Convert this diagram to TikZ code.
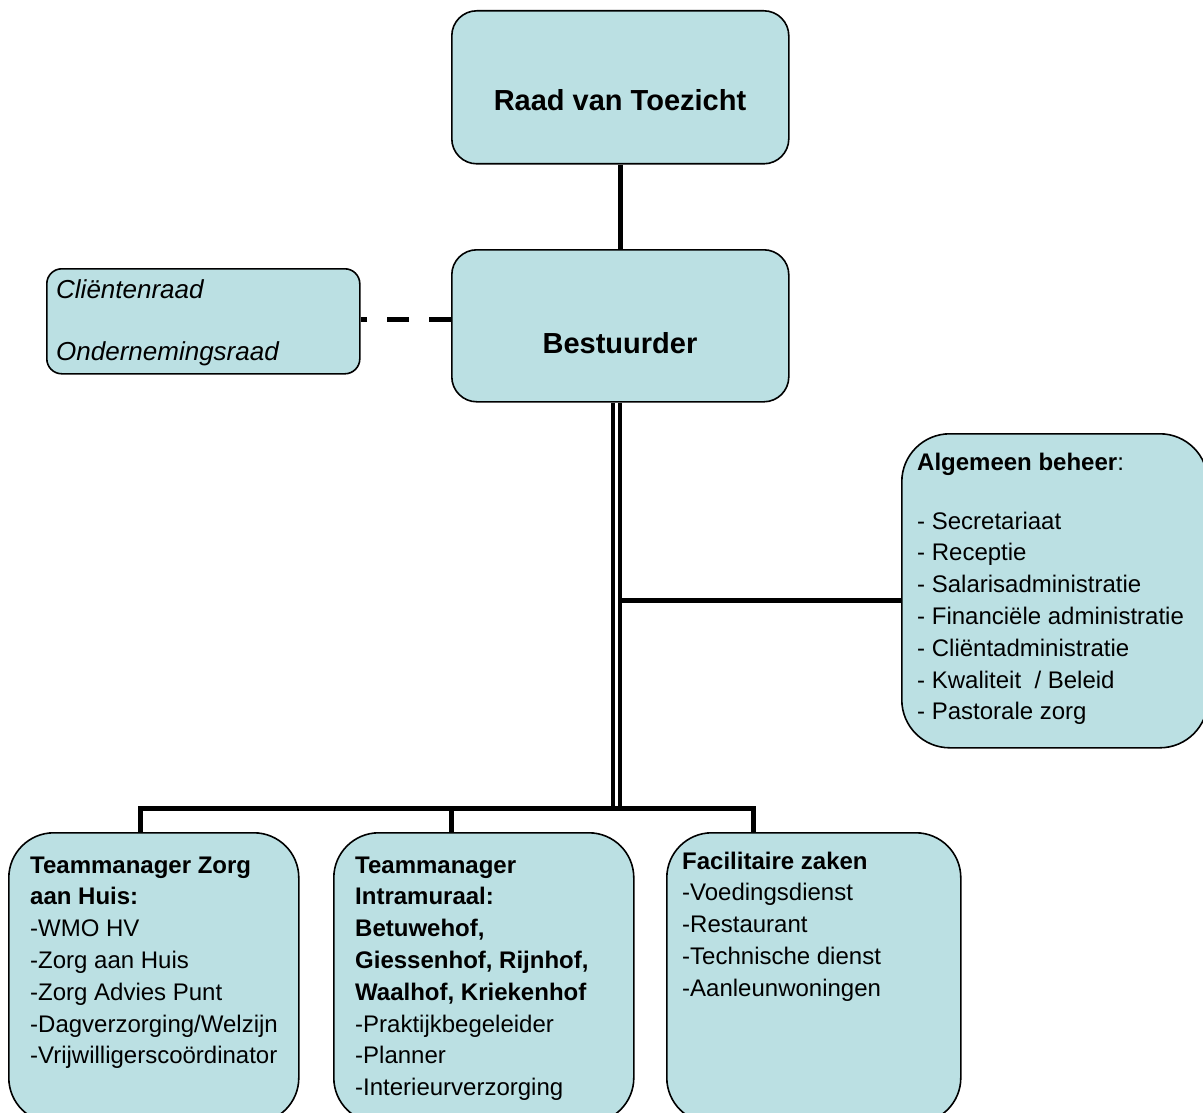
\documentclass[tikz,border=0pt]{standalone}
\usepackage{fontspec}
\setmainfont{Liberation Sans}
\definecolor{boxfill}{RGB}{187,224,227}
\begin{document}
\begin{tikzpicture}[x=1pt,y=-1pt,
  orgbox/.style={draw=black, line width=1.6pt, fill=boxfill, inner sep=0pt, anchor=north west},
  titletxt/.style={inner sep=0pt, anchor=base, font=\bfseries\fontsize{29pt}{34pt}\selectfont},
  bodytxt/.style={inner sep=0pt, anchor=north west, align=left, font=\fontsize{24pt}{31.8pt}\selectfont},
  conn/.style={line width=5pt, draw=black},
]
\clip (0,0) rectangle (1203,1113);
\fill[white] (0,0) rectangle (1203,1113);

% boxes
\node[orgbox, rounded corners=25pt, minimum width=337pt, minimum height=153pt] (raad) at (451,10) {};
\node[orgbox, rounded corners=25pt, minimum width=337pt, minimum height=152pt] (best) at (451,249) {};
\node[orgbox, rounded corners=15pt, minimum width=313pt, minimum height=105pt] (cli) at (46,268) {};
\node[orgbox, rounded corners=48pt, minimum width=306pt, minimum height=314pt] (alg) at (901,433) {};
\node[orgbox, rounded corners=45pt, minimum width=290pt, minimum height=290pt] (tzh) at (8,832) {};
\node[orgbox, rounded corners=45pt, minimum width=300pt, minimum height=290pt] (tin) at (333,832) {};
\node[orgbox, rounded corners=45pt, minimum width=294pt, minimum height=290pt] (fac) at (666,832) {};

% connectors
\coordinate (busmid) at (616,808);
\coordinate (busl) at (140,808);
\coordinate (busc) at (451,808);
\coordinate (busr) at (753,808);
\coordinate (algjoin) at (619,600);
\draw[conn] (raad.south) -- (best.north);
\draw[conn, dash pattern=on 22pt off 20pt] (best.west |- 0,319) -- (cli.east |- 0,319);
\draw[line width=4pt, double=white, double distance=3pt] (best.south -| busmid) -- ([yshift=2pt]busmid);
\draw[conn] (algjoin) -- (alg.west |- algjoin);
\draw[conn, line cap=rect] (busl) -- (busr);
\draw[conn] (busl) -- (tzh.north -| busl);
\draw[conn] (busc) -- (tin.north -| busc);
\draw[conn] (busr) -- (fac.north -| busr);

% texts
\node[titletxt] (raadt) at (620,111) {Raad van Toezicht};
\node[titletxt] (bestt) at (620,353) {Bestuurder};
\node[inner sep=0pt, anchor=north west, align=left, font=\itshape\fontsize{26pt}{31pt}\selectfont] (clit) at (56,276.3)
  {\strut Cliëntenraad\\[31pt]Ondernemingsraad};
\node[bodytxt] (algt) at (917,447.7)
  {\strut\textbf{Algemeen beheer}:\\[27.2pt]
   - Secretariaat\\
   - Receptie\\
   - Salarisadministratie\\
   - Financiële administratie\\
   - Cliëntadministratie\\
   - Kwaliteit\ \ / Beleid\\
   - Pastorale zorg};
\node[bodytxt] (tzht) at (30,850.7)
  {\strut\textbf{Teammanager Zorg}\\
   \textbf{aan Huis:}\\
   -WMO HV\\
   -Zorg aan Huis\\
   -Zorg Advies Punt\\
   -Dagverzorging/Welzijn\\
   -Vrijwilligerscoördinator};
\node[bodytxt] (tint) at (355,850.7)
  {\strut\textbf{Teammanager}\\
   \textbf{Intramuraal:}\\
   \textbf{Betuwehof,}\\
   \textbf{Giessenhof, Rijnhof,}\\
   \textbf{Waalhof, Kriekenhof}\\
   -Praktijkbegeleider\\
   -Planner\\
   -Interieurverzorging};
\node[bodytxt] (fact) at (682,846.7)
  {\strut\textbf{Facilitaire zaken}\\
   -Voedingsdienst\\
   -Restaurant\\
   -Technische dienst\\
   -Aanleunwoningen};
\end{tikzpicture}
\end{document}
